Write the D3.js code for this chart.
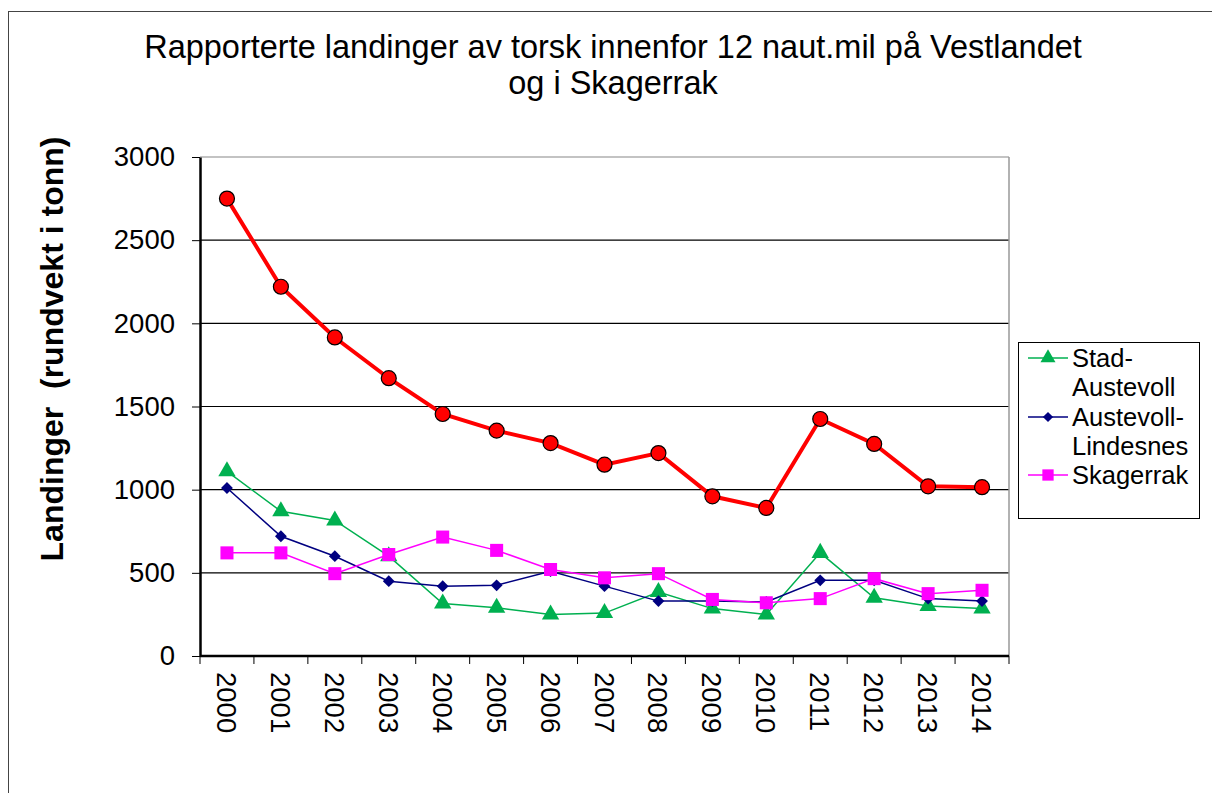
<!DOCTYPE html>
<meta charset="utf-8">
<style>
body{margin:0;background:#fff;}
text{font-family:"Liberation Sans",Arial,sans-serif;fill:#000;}
.grid line{stroke:#000;stroke-width:1.2;}
.axis path,.axis line{stroke:#000;}
</style>
<body>
<script src="https://d3js.org/d3.v7.min.js"></script>
<script>

var years=["2000","2001","2002","2003","2004","2005","2006","2007","2008","2009","2010","2011","2012","2013","2014"];
var total=[2750,2220,1915,1670,1455,1355,1280,1150,1220,960,890,1425,1275,1020,1015];
var stad=[1110,870,815,600,315,290,250,258,385,285,250,620,350,300,285];
var austevoll=[1010,720,600,450,420,425,510,420,330,330,325,455,455,345,330];
var skagerrak=[620,620,495,610,715,635,520,470,495,340,320,345,465,375,395];
var yTicks=[0,500,1000,1500,2000,2500,3000];

var W=1212,H=793;
var svg=d3.select("body").append("svg").attr("width",W).attr("height",H);

// outer frame
svg.append("rect").attr("x",8.5).attr("y",11.5).attr("width",W).attr("height",H)
	.attr("fill","none").attr("stroke","#444").attr("stroke-width",1);

svg.append("text").attr("x",613).attr("y",58).attr("text-anchor","middle")
	.style("font-size","32.5px").text("Rapporterte landinger av torsk innenfor 12 naut.mil på Vestlandet");
svg.append("text").attr("x",613).attr("y",94).attr("text-anchor","middle")
	.style("font-size","32.5px").text("og i Skagerrak");

var pL=200,pR=1009,pT=157,pB=656;
var x=d3.scaleBand().domain(years).range([pL,pR]);
var y=d3.scaleLinear().domain([0,3000]).range([pB,pT]);

// gridlines
svg.append("g").attr("class","grid").selectAll("line").data(yTicks.filter(d=>d>0)).join("line")
	.attr("x1",pL).attr("x2",pR).attr("y1",d=>y(d)).attr("y2",d=>y(d))
	.style("stroke",d=>d==3000?"#888":"#000");
// right border of plot area
svg.append("line").attr("x1",pR).attr("x2",pR).attr("y1",pT).attr("y2",pB)
	.attr("stroke","#999").attr("stroke-width",1.5);

var yAxis=svg.append("g").attr("class","axis").attr("transform","translate("+pL+",0)")
	.call(d3.axisLeft(y).tickValues(yTicks).tickFormat(d3.format("d")).tickSize(8).tickPadding(17).tickSizeOuter(0));
yAxis.select(".domain").attr("stroke-width",2.5);
yAxis.selectAll("text").style("font-size","27.5px").style("font-family","Liberation Sans, Arial, sans-serif");

// x axis: ticks at category boundaries
var xAxis=svg.append("g").attr("class","axis");
xAxis.append("line").attr("x1",pL).attr("x2",pR).attr("y1",pB).attr("y2",pB)
	.attr("stroke","#000").attr("stroke-width",2.5);
xAxis.selectAll(".tk").data(years.concat(["end"])).join("line").attr("class","tk")
	.attr("x1",(d,i)=>pL+i*x.step()).attr("x2",(d,i)=>pL+i*x.step())
	.attr("y1",pB).attr("y2",pB+8).attr("stroke","#000").attr("stroke-width",1);
xAxis.selectAll(".lbl").data(years).join("text").attr("class","lbl")
	.attr("transform",d=>"translate("+(x(d)+x.bandwidth()/2-10)+","+(pB+16)+") rotate(90)")
	.style("font-size","27.5px").text(d=>d);

svg.append("text").attr("transform","translate(63,349) rotate(-90)").attr("text-anchor","middle")
	.style("font-size","32px").style("font-weight","bold").attr("xml:space","preserve")
	.text("Landinger  (rundvekt i tonn)");

var cx=d=>x(d)+x.bandwidth()/2;
var line=d3.line().x(d=>cx(d.year)).y(d=>y(d.v));
function pts(arr){return years.map((yr,i)=>({year:yr,v:arr[i]}));}

var series=[
	{name:"Stad-Austevoll",data:stad,color:"#00B050",width:1.5,sym:d3.symbolTriangle,size:130,rot:0},
	{name:"Austevoll-Lindesnes",data:austevoll,color:"#000080",width:1.5,sym:d3.symbolSquare,size:70,rot:45},
	{name:"Skagerrak",data:skagerrak,color:"#FF00FF",width:1.5,sym:d3.symbolSquare,size:170,rot:0}
];

series.forEach(function(s){
	var p=pts(s.data);
	svg.append("path").datum(p).attr("d",line).attr("fill","none")
		.attr("stroke",s.color).attr("stroke-width",s.width);
	svg.append("g").selectAll("path").data(p).join("path")
		.attr("transform",d=>"translate("+cx(d.year)+","+y(d.v)+") rotate("+s.rot+")")
		.attr("d",d3.symbol(s.sym,s.size)).attr("fill",s.color);
});

// total series (red)
var tp=pts(total);
svg.append("path").datum(tp).attr("d",line).attr("fill","none")
	.attr("stroke","#FF0000").attr("stroke-width",4);
svg.append("g").selectAll("circle").data(tp).join("circle")
	.attr("cx",d=>cx(d.year)).attr("cy",d=>y(d.v)).attr("r",7.5)
	.attr("fill","#FF0000").attr("stroke","#000").attr("stroke-width",1.2);

// legend
var lg=svg.append("g");
lg.append("rect").attr("x",1018.5).attr("y",342.5).attr("width",181).attr("height",176)
	.attr("fill","#fff").attr("stroke","#000").attr("stroke-width",1);
var lgRows=[
	{s:series[0],lines:["Stad-","Austevoll"],y:358},
	{s:series[1],lines:["Austevoll-","Lindesnes"],y:417},
	{s:series[2],lines:["Skagerrak"],y:475}
];
lgRows.forEach(function(r){
	lg.append("line").attr("x1",1028).attr("x2",1068).attr("y1",r.y).attr("y2",r.y)
		.attr("stroke",r.s.color).attr("stroke-width",1.5);
	lg.append("path").attr("transform","translate(1048,"+r.y+") rotate("+r.s.rot+")")
		.attr("d",d3.symbol(r.s.sym,r.s.size*0.75)).attr("fill",r.s.color);
	r.lines.forEach(function(t,j){
		lg.append("text").attr("x",1072).attr("y",r.y+9+j*29).style("font-size","25.5px").text(t);
	});
});
</script>
</body>
</html>
